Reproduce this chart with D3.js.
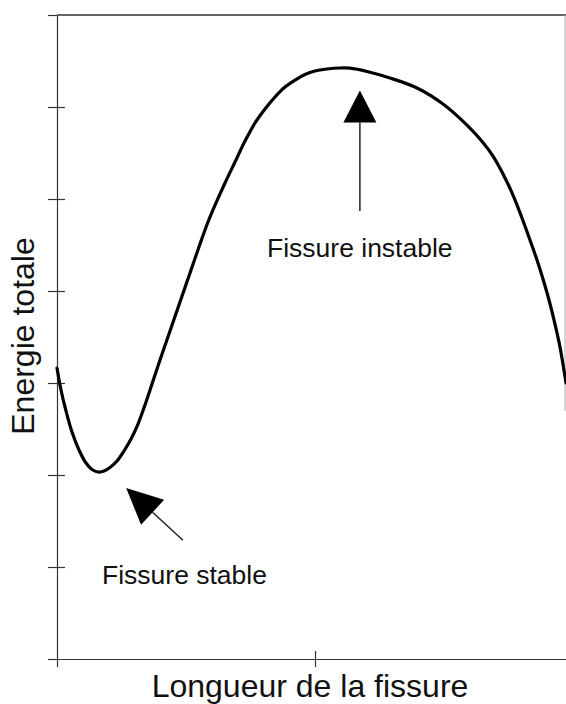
<!DOCTYPE html>
<html>
<head>
<meta charset="utf-8">
<script src="https://cdn.jsdelivr.net/npm/d3@7"></script>
<style>
  html, body { margin: 0; padding: 0; background: #fff; }
  svg { display: block; }
  text { font-family: "Liberation Sans", Arial, Helvetica, sans-serif; fill: #111; }
</style>
</head>
<body>
<svg id="chart" width="566" height="704"></svg>
<script>
// ---- data ----
const crackLength = [0.000, 0.0155, 0.0349, 0.0581, 0.0853, 0.1124, 0.1357, 0.1589, 0.1822, 0.2054, 0.2326, 0.2597, 0.2868, 0.3140, 0.3411, 0.3682, 0.3992, 0.4380, 0.4767, 0.5155, 0.5543, 0.5853, 0.6163, 0.6512, 0.6899, 0.7287, 0.7674, 0.8062, 0.8450, 0.8837, 0.9225, 0.9612, 1.0000, 1.0465, 1.0969, 1.1357, 1.2016, 1.2907, 1.3953, 1.4961, 1.5891, 1.6395, 1.6899, 1.7287, 1.7674, 1.8023, 1.8333, 1.8605, 1.8837, 1.9070, 1.9302, 1.9496, 1.9729];
const totalEnergy = [3.163, 2.924, 2.696, 2.467, 2.272, 2.130, 2.060, 2.033, 2.043, 2.082, 2.152, 2.261, 2.391, 2.554, 2.761, 2.989, 3.250, 3.565, 3.880, 4.196, 4.511, 4.750, 4.957, 5.174, 5.402, 5.630, 5.826, 5.978, 6.109, 6.217, 6.293, 6.353, 6.391, 6.413, 6.424, 6.422, 6.386, 6.315, 6.207, 6.033, 5.804, 5.652, 5.467, 5.272, 5.043, 4.793, 4.554, 4.337, 4.130, 3.902, 3.641, 3.391, 3.000];
const xTicks = [0, 1, 2];
const yTicks = [0, 1, 2, 3, 4, 5, 6, 7];
const xTitle = "Longueur de la fissure";
const yTitle = "Energie totale";
const annotStable = { label: "Fissure stable", tip: [0.268, 1.86], tail: [0.488, 1.29] };
const annotInstable = { label: "Fissure instable", tip: [1.174, 6.18], tail: [1.174, 4.87] };

const svg = d3.select("#chart");
const W = 566, H = 704;

const x = d3.scaleLinear().domain([0, 2]).range([57, 573]);
const y = d3.scaleLinear().domain([0, 7]).range([659, 15]);

const axisColor = "#333";

// y axis: ticks crossing the axis line
svg.append("g").attr("transform", `translate(${x(0)},0)`)
  .call(d3.axisLeft(y).tickValues(yTicks).tickSize(9).tickSizeOuter(0).tickFormat(""));
const gyR = svg.append("g").attr("transform", `translate(${x(0)},0)`)
  .call(d3.axisRight(y).tickValues(yTicks.slice(1, 7)).tickSize(8).tickSizeOuter(0).tickFormat(""));
gyR.select(".domain").remove();

// x axis: ticks crossing the axis line
svg.append("g").attr("transform", `translate(0,${y(0)})`)
  .call(d3.axisBottom(x).tickValues(xTicks).tickSize(8).tickSizeOuter(0).tickFormat(""));
const gxT = svg.append("g").attr("transform", `translate(0,${y(0)})`)
  .call(d3.axisTop(x).tickValues([1]).tickSize(8).tickSizeOuter(0).tickFormat(""));
gxT.select(".domain").remove();

svg.selectAll(".domain, .tick line").attr("stroke", axisColor).attr("stroke-width", 1.2);

// top frame line
svg.append("line")
  .attr("x1", x(0)).attr("x2", W).attr("y1", y(7)).attr("y2", y(7))
  .attr("stroke", axisColor).attr("stroke-width", 1.5);
// faint right border (partial, as in the scan)
svg.append("line")
  .attr("x1", W - 1).attr("x2", W - 1).attr("y1", y(7)).attr("y2", y(2.7))
  .attr("stroke", "#aaa").attr("stroke-width", 1);

// curve
const pts = crackLength.map((d, i) => [d, totalEnergy[i]]);
svg.append("path")
  .datum(pts)
  .attr("fill", "none")
  .attr("stroke", "#000")
  .attr("stroke-width", 3.2)
  .attr("stroke-linecap", "round")
  .attr("stroke-linejoin", "round")
  .attr("d", d3.line().x(d => x(d[0])).y(d => y(d[1])).curve(d3.curveCatmullRom.alpha(0.5)));

// arrows
function arrow(a, headLen, headHalf) {
  const tx = x(a.tip[0]), ty = y(a.tip[1]);
  const sx = x(a.tail[0]), sy = y(a.tail[1]);
  const ang = Math.atan2(ty - sy, tx - sx);
  const bx = tx - headLen * Math.cos(ang), by = ty - headLen * Math.sin(ang);
  svg.append("line")
    .attr("x1", sx).attr("y1", sy).attr("x2", bx).attr("y2", by)
    .attr("stroke", "#222").attr("stroke-width", 1.5);
  const px = -Math.sin(ang), py = Math.cos(ang);
  svg.append("path")
    .attr("d", `M${tx},${ty}L${bx + px * headHalf},${by + py * headHalf}L${bx - px * headHalf},${by - py * headHalf}Z`)
    .attr("fill", "#000");
}
arrow(annotInstable, 32, 16.5);
arrow(annotStable, 36, 17);

// annotation labels
svg.append("text").attr("x", 267).attr("y", 257)
  .style("font-size", "26.5px").text(annotInstable.label);
svg.append("text").attr("x", 102).attr("y", 584)
  .style("font-size", "26.5px").text(annotStable.label);

// axis titles
svg.append("text")
  .attr("x", 310).attr("y", 697)
  .attr("text-anchor", "middle")
  .style("font-size", "32px")
  .text(xTitle);
svg.append("text")
  .attr("transform", `translate(34,336) rotate(-90)`)
  .attr("text-anchor", "middle")
  .style("font-size", "32px")
  .text(yTitle);
</script>
</body>
</html>
